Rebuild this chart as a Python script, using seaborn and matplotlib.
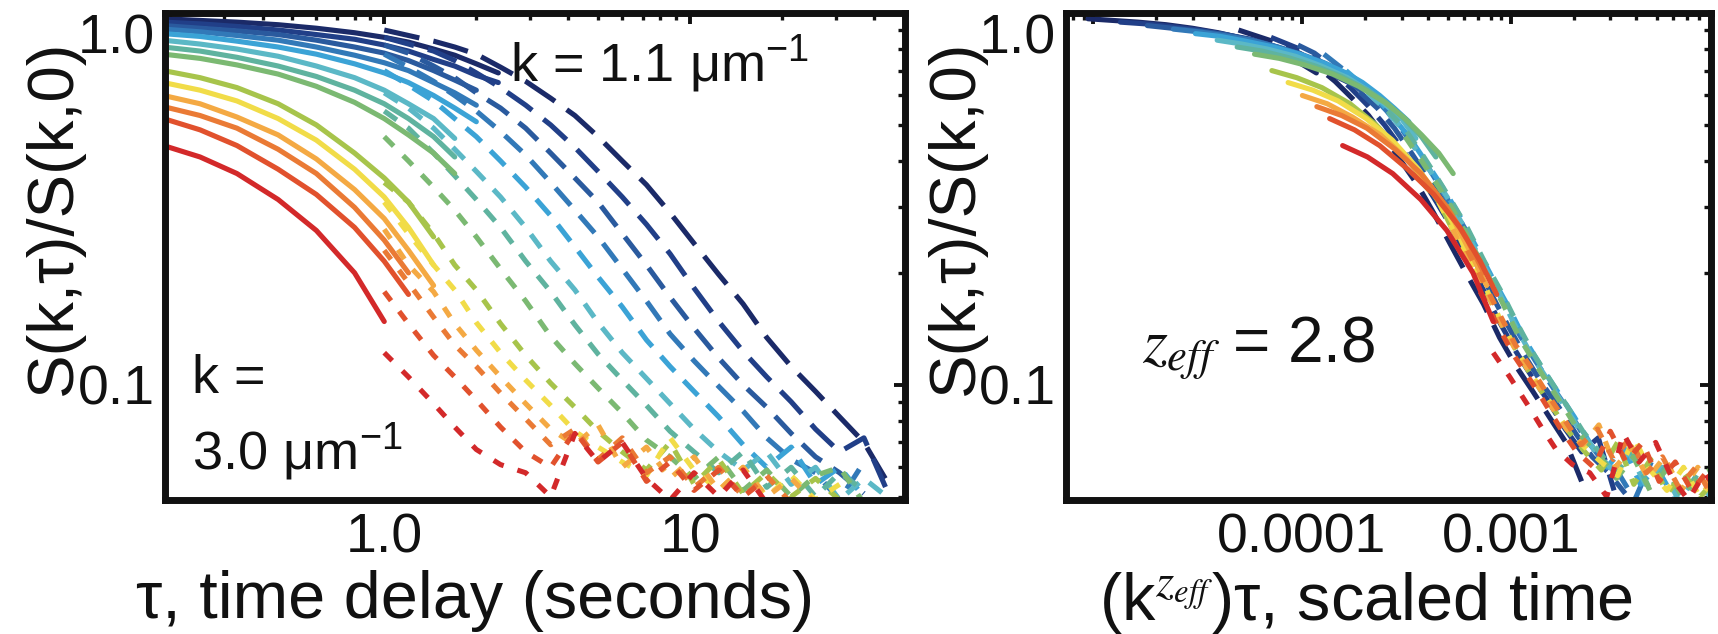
import numpy as np
import pandas as pd
import matplotlib
matplotlib.use("Agg")
import matplotlib.pyplot as plt
import seaborn as sns
from matplotlib.ticker import FixedLocator, NullFormatter, LogLocator

nan = np.nan
# ---------------- data ----------------
k_values = [1.10, 1.25, 1.39, 1.54, 1.68, 1.83, 1.98, 2.12, 2.27, 2.42, 2.56, 2.71, 2.85, 3.00]
z_eff = 2.8
unit_scale = 3.8e-5          # unit factor in (k^z_eff) * tau

tau_solid = [0.19, 0.25, 0.33, 0.45, 0.6, 0.8, 1.0, 1.2, 1.45, 1.7, 2.0, 2.36]
tau_dashed = [1.0, 1.2, 1.45, 1.7, 2.0, 2.4, 2.9, 3.5, 4.2, 5.0, 6.0, 7.2, 8.6, 10.3,
              12.4, 14.9, 17.8, 21.4, 25.7, 30.8, 37, 44]

S_110 = [.965, .955, .945, .93, .91, .885, .86, .835, .80, .77, .73, .69]
S_125 = [.945, .935, .92, .90, .875, .85, .82, .79, .75, .72, .68, .65]
S_139 = [.925, .91, .895, .875, .845, .81, .78, .745, .70, .66, .62, nan]
S_154 = [.905, .89, .87, .845, .81, .77, .735, .70, .65, .61, .565, nan]
S_168 = [.88, .865, .84, .81, .775, .73, .69, .65, .60, .555, .51, nan]
S_183 = [.845, .825, .80, .765, .72, .67, .62, .57, .52, .46, nan, nan]
S_198 = [.81, .79, .76, .72, .675, .62, .57, .52, .465, .41, nan, nan]
S_212 = [.775, .755, .725, .685, .635, .575, .52, .47, .42, .37, nan, nan]
S_227 = [.70, .67, .63, .57, .50, .42, .36, .31, .25, nan, nan, nan]
S_242 = [.65, .62, .58, .52, .455, .38, .32, .265, .21, nan, nan, nan]
S_256 = [.60, .57, .525, .47, .405, .335, .28, .23, .185, nan, nan, nan]
S_271 = [.56, .53, .49, .43, .37, .30, .245, .20, nan, nan, nan, nan]
S_285 = [.52, .485, .44, .38, .325, .265, .215, .175, nan, nan, nan, nan]
S_300 = [.44, .41, .37, .315, .26, .20, .148, nan, nan, nan, nan, nan]

D_110 = [.90, .87, .84, .81, .775, .715, .655, .59, .53, .465, .40, .345, .29, .24, .198, .165, .134, .112, .096, .082, .070, .055]
D_125 = [.86, .825, .79, .745, .69, .63, .565, .50, .435, .375, .32, .27, .225, .182, .148, .123, .105, .09, .076, .066, .072, .052]
D_139 = [.82, .78, .72, .67, .61, .555, .49, .42, .36, .31, .255, .21, .172, .142, .118, .10, .087, .074, .064, .058, .051, nan]
D_154 = [.775, .715, .655, .60, .545, .48, .415, .35, .295, .25, .205, .168, .137, .116, .099, .085, .072, .063, .058, .049, .062, nan]
D_168 = [.70, .64, .58, .52, .465, .40, .34, .285, .235, .195, .162, .132, .112, .096, .082, .069, .060, .068, .054, .060, .05, nan]
D_183 = [.61, .555, .49, .43, .375, .32, .265, .215, .18, .147, .122, .104, .089, .076, .066, .059, .066, .054, .060, .049, .056, .05]
D_198 = [.545, .49, .42, .365, .315, .265, .215, .178, .145, .121, .103, .088, .075, .066, .058, .066, .053, .060, .05, .058, .052, nan]
D_212 = [.465, .40, .34, .295, .25, .205, .168, .135, .114, .098, .084, .071, .064, .056, .064, .052, .059, .05, .057, .060, .048, nan]
D_227 = [.35, .31, .255, .21, .18, .146, .12, .101, .087, .075, .066, .059, .070, .054, .063, .051, .058, .05, .056, .049, nan, nan]
D_242 = [.31, .255, .21, .18, .147, .122, .103, .088, .075, .068, .062, .057, .072, .059, .052, .060, .05, .057, .049, .054, nan, nan]
D_256 = [.262, .21, .178, .146, .124, .105, .089, .076, .069, .078, .06, .068, .056, .064, .052, .060, .05, .056, .048, nan, nan, nan]
D_271 = [.23, .188, .152, .128, .112, .095, .081, .069, .076, .063, .072, .058, .064, .053, .060, .05, .057, .048, nan, nan, nan, nan]
D_285 = [.178, .146, .12, .105, .091, .077, .066, .06, .075, .062, .070, .055, .062, .052, .059, .05, .056, nan, nan, nan, nan, nan]
D_300 = [.122, .105, .089, .077, .067, .061, .058, .05, .074, .062, .070, .056, .049, .058, .05, .059, .048, nan, nan, nan, nan, nan]

solid_sets = [S_110, S_125, S_139, S_154, S_168, S_183, S_198, S_212, S_227, S_242, S_256, S_271, S_285, S_300]
dashed_sets = [D_110, D_125, D_139, D_154, D_168, D_183, D_198, D_212, D_227, D_242, D_256, D_271, D_285, D_300]

# ---------------- styles ----------------
colors = ['#1b2a68', '#213f88', '#2a5a9e', '#3279b8', '#3ba3d6', '#5bb8c6', '#5fb39f',
          '#7bb972', '#a7c44b', '#f1dc48', '#f4a943', '#ea7a35', '#e1512d', '#d3292a']
dash_styles = [(7, 2.8), (6, 2.8), (5, 2.6), (4.5, 2.6), (4, 2.5), (3.2, 2.5), (3, 2.5),
               (2.6, 2.6), (2.4, 2.6), (2.3, 2.6), (2.2, 2.6), (2.2, 2.6), (2.2, 2.6), (2.2, 2.8)]
LW = 3.7

rows = []
for k, ys, yd in zip(k_values, solid_sets, dashed_sets):
    for t, y in zip(tau_solid, ys):
        rows.append(dict(k=k, seg="solid", tau=t, S=y))
    for t, y in zip(tau_dashed, yd):
        rows.append(dict(k=k, seg="dashed", tau=t, S=y))
df = pd.DataFrame(rows).dropna()
df["scaled"] = unit_scale * df["k"] ** z_eff * df["tau"]

sns.set_theme(style="white")
plt.rcParams['font.family'] = ['Liberation Sans', 'DejaVu Sans']
plt.rcParams['mathtext.fontset'] = 'custom'
plt.rcParams['mathtext.rm'] = 'Liberation Sans'
plt.rcParams['mathtext.it'] = 'Liberation Sans:italic'
plt.rcParams['mathtext.bf'] = 'Liberation Sans:bold'

W, H = 1718, 634
fig = plt.figure(figsize=(W / 100, H / 100), dpi=100)
fig.patch.set_facecolor('white')
axL = fig.add_axes([165 / W, 134 / H, 740 / W, 487 / H])
axR = fig.add_axes([1066 / W, 134 / H, 645 / W, 487 / H])

for ax, xcol in ((axL, "tau"), (axR, "scaled")):
    ax.set_xscale('log')
    ax.set_yscale('log')
    for i, k in enumerate(k_values):
        sub = df[df["k"] == k]
        d = sub[sub["seg"] == "dashed"]
        s = sub[sub["seg"] == "solid"]
        sns.lineplot(x=d[xcol].values, y=d["S"].values, ax=ax, color=colors[i], linewidth=LW,
                     linestyle=(0, dash_styles[i]), estimator=None, sort=False, legend=False)
        sns.lineplot(x=s[xcol].values, y=s["S"].values, ax=ax, color=colors[i], linewidth=LW,
                     estimator=None, sort=False, legend=False)

axL.set_xlim(0.192, 50.4)
axR.set_xlim(7.4e-6, 9.1e-3)
axL.xaxis.set_major_locator(FixedLocator([1.0, 10.0]))
axL.set_xticklabels(['1.0', '10'])
axR.xaxis.set_major_locator(FixedLocator([1e-5, 1e-4, 1e-3]))
axR.set_xticklabels(['', '0.0001', '0.001'])

for ax in (axL, axR):
    ax.set_ylim(0.049, 1.0)
    ax.yaxis.set_major_locator(FixedLocator([0.1, 1.0]))
    ax.set_yticklabels(['0.1', '1.0'])
    ax.yaxis.set_minor_locator(LogLocator(base=10, subs=np.arange(2, 10) * 1.0, numticks=30))
    ax.xaxis.set_minor_locator(LogLocator(base=10, subs=np.arange(2, 10) * 1.0, numticks=30))
    ax.xaxis.set_minor_formatter(NullFormatter())
    ax.yaxis.set_minor_formatter(NullFormatter())
    ax.tick_params(which='both', direction='in', top=True, right=True, colors='#111111',
                   labelsize=40, labelcolor='#111111')
    ax.tick_params(axis='y', which='major', pad=7)
    ax.tick_params(axis='x', which='major', pad=9)
    ax.tick_params(which='major', length=8, width=2.8)
    ax.tick_params(which='minor', length=5, width=2.4)
    for sp in ax.spines.values():
        sp.set_linewidth(5)
        sp.set_color('#111111')
        sp.set_visible(True)
    for lab in ax.get_yticklabels():
        if lab.get_text() == '1.0':
            lab.set_va('top')
    ax.set_ylabel("S(k,τ)/S(k,0)", fontsize=47, color='#111111')

axL.yaxis.set_label_coords(-0.109, 0.58)
axR.yaxis.set_label_coords(-0.124, 0.58)

axL.set_xlabel("τ, time delay (seconds)", fontsize=48, color='#111111')
axL.xaxis.set_label_coords(0.419, -0.144)
axR.set_xlabel(r"(k$^{z_{eff}}$)τ, scaled time", fontsize=48, color='#111111',
               math_fontfamily='stix')
axR.xaxis.set_label_coords(0.465, -0.144)

axL.text(0.466, 0.86, r"k = 1.1 μm$^{-1}$", transform=axL.transAxes, fontsize=39,
         va='baseline', ha='left', color='#111111')
axL.text(0.0365, 0.22, "k =", transform=axL.transAxes, fontsize=39,
         va='baseline', ha='left', color='#111111')
axL.text(0.0365, 0.062, r"3.0 μm$^{-1}$", transform=axL.transAxes, fontsize=39,
         va='baseline', ha='left', color='#111111')
axR.text(0.118, 0.283, r"$z_{eff}$ = 2.8", transform=axR.transAxes, fontsize=46,
         va='baseline', ha='left', color='#111111', math_fontfamily='stix')

fig.savefig("out.png", dpi=100, facecolor='white')
